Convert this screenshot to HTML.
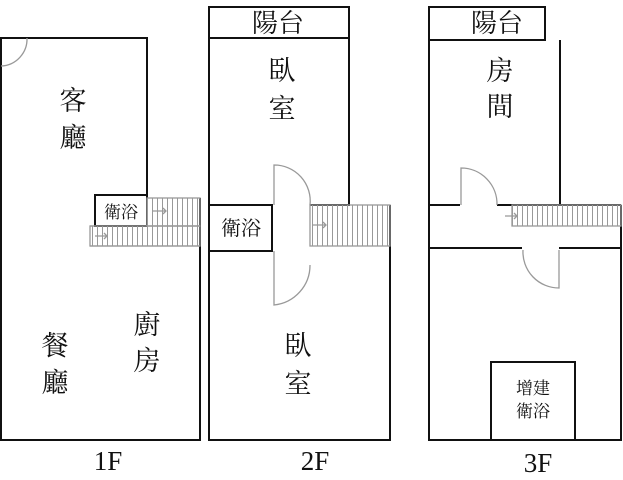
<!DOCTYPE html>
<html><head><meta charset="utf-8"><style>
html,body{margin:0;padding:0;background:#fff;}
svg{display:block;}
text{font-family:"Liberation Serif","Noto Serif CJK SC",serif;fill:#111;text-anchor:middle;}
</style></head><body>
<svg width="623" height="480" viewBox="0 0 623 480" xmlns="http://www.w3.org/2000/svg">
<defs>
<pattern id="tr" width="5" height="10" patternUnits="userSpaceOnUse"><line x1="2.5" y1="0" x2="2.5" y2="10" stroke="#999" stroke-width="1"/></pattern>
</defs>
<g fill="none" stroke="#111" stroke-width="2">
<polyline points="147,197 147,38 1,38 1,440 200,440 200,198"/>
<rect x="95" y="195" width="52" height="31"/>
<rect x="209" y="7" width="140" height="31"/>
<polyline points="349,38 349,205 310,205"/>
<polyline points="209,38 209,440 390,440 390,205"/>
<rect x="209" y="205" width="63" height="46"/>
<rect x="429" y="7" width="116" height="33"/>
<polyline points="560,40 560,205"/>
<polyline points="429,40 429,440 621,440 621,205"/>
<line x1="429" y1="205" x2="460" y2="205"/>
<line x1="497" y1="205" x2="621" y2="205"/>
<line x1="429" y1="248" x2="522" y2="248"/>
<line x1="559" y1="248" x2="621" y2="248"/>
<rect x="491" y="362" width="84" height="78"/>
</g>
<g fill="none" stroke="#999" stroke-width="1.3">
<path d="M27,38 A27,27 0 0 1 1,66"/>
<rect x="147" y="198" width="53" height="28" fill="url(#tr)"/>
<rect x="90" y="226" width="110" height="20" fill="url(#tr)"/>
<line x1="90" y1="226" x2="200" y2="226"/>
<line x1="90" y1="246" x2="200" y2="246"/>
<path d="M152,211 h14 m-3,-3 l3,3 l-3,3"/>
<path d="M95,236 h12 m-3,-3 l3,3 l-3,3"/>
<path d="M274,205 V165 A36,36 0 0 1 310,205"/>
<path d="M274,251 V305 A40,40 0 0 0 310,265"/>
<rect x="310" y="205" width="80" height="41" fill="url(#tr)"/>
<path d="M312,225 h14 m-3,-3 l3,3 l-3,3"/>
<path d="M461,205 V168 A36,36 0 0 1 497,205"/>
<path d="M559,250 V288 A36,36 0 0 1 523,250"/>
<rect x="512" y="205" width="109" height="21" fill="url(#tr)"/>
<path d="M505,216 h12 m-3,-3 l3,3 l-3,3"/>
</g>
<g font-size="27">
<text x="73" y="110">客</text><text x="73" y="147">廳</text>
<text x="55" y="355">餐</text><text x="55" y="392">廳</text>
<text x="147" y="334">廚</text><text x="147" y="370">房</text>
<text x="282" y="80">臥</text><text x="282" y="118">室</text>
<text x="298" y="355">臥</text><text x="298" y="393">室</text>
<text x="500" y="80">房</text><text x="500" y="116">間</text>
</g>
<g font-size="26"><text x="278" y="32">陽台</text><text x="497" y="32">陽台</text></g>
<text x="121" y="218" font-size="17">衛浴</text>
<text x="241" y="235" font-size="20">衛浴</text>
<text x="533" y="394" font-size="17">增建</text>
<text x="533" y="417" font-size="17">衛浴</text>
<g font-size="27"><text x="108" y="470">1F</text><text x="315" y="470">2F</text><text x="538" y="472">3F</text></g>
</svg>
</body></html>
